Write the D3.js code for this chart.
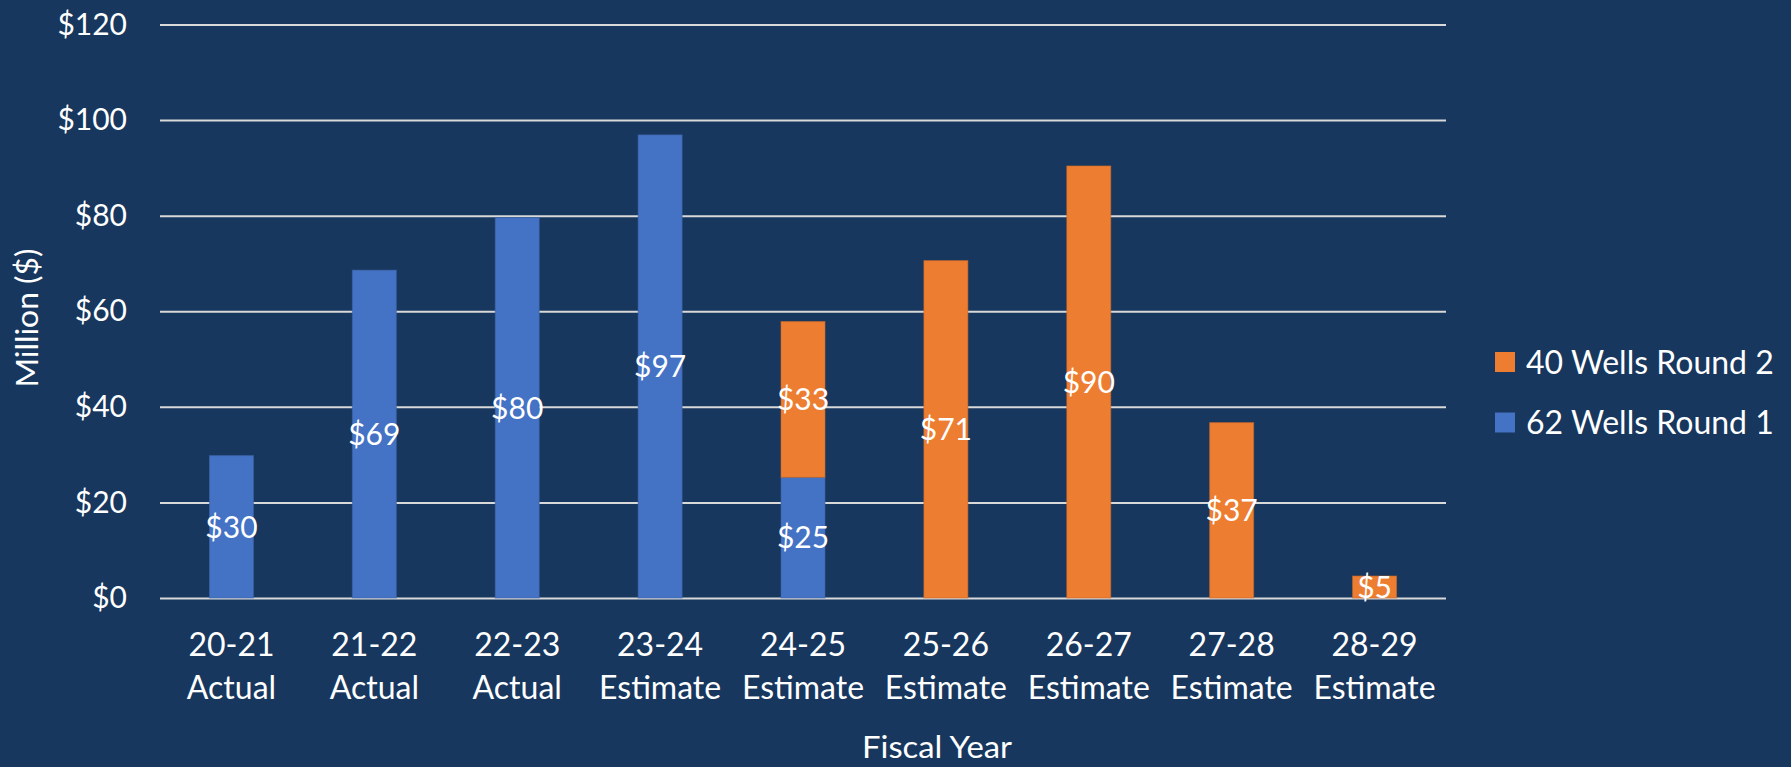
<!DOCTYPE html>
<html>
<head>
<meta charset="utf-8">
<script src="https://cdn.jsdelivr.net/npm/d3@7"></script>
<style>
  html, body { margin: 0; padding: 0; background: #17375E; }
  svg { display: block; }
  text { font-family: Lato, "Open Sans", sans-serif; fill: #ffffff; }
</style>
</head>
<body>
<svg id="chart" width="1791" height="767"></svg>
<script>
// ---- data ----
const categories = ["20-21", "21-22", "22-23", "23-24", "24-25", "25-26", "26-27", "27-28", "28-29"];
const categoryNotes = ["Actual", "Actual", "Actual", "Estimate", "Estimate", "Estimate", "Estimate", "Estimate", "Estimate"];
const round1 = [29.8, 68.6, 79.6, 96.9, 25.25, 0, 0, 0, 0];   // 62 Wells Round 1
const round2 = [0, 0, 0, 0, 32.6, 70.6, 90.4, 36.7, 4.6];     // 40 Wells Round 2
const seriesNames = ["62 Wells Round 1", "40 Wells Round 2"];
const seriesColors = ["#4472C4", "#ED7D31"];
const yTicks = [0, 20, 40, 60, 80, 100, 120];
const xTitle = "Fiscal Year";
const yTitle = "Million ($)";

// ---- layout ----
const svg = d3.select("#chart");
const plotLeft = 160, plotRight = 1446, plotTop = 24.5, plotBottom = 598;

const x = d3.scaleBand().domain(categories).range([plotLeft, plotRight])
  .paddingInner(0.692).paddingOuter(0.346);
const y = d3.scaleLinear().domain([0, 120]).range([plotBottom, plotTop]);

const rows = categories.map((c, i) => ({ cat: c, r1: round1[i], r2: round2[i] }));
const stacked = d3.stack().keys(["r1", "r2"])(rows);

// gridlines + y tick labels
const yAxis = d3.axisLeft(y).tickValues(yTicks).tickSize(-(plotRight - plotLeft)).tickPadding(33)
  .tickFormat(d => "$" + d);
const gy = svg.append("g").attr("transform", `translate(${plotLeft},0)`).call(yAxis);
gy.select(".domain").remove();
gy.selectAll(".tick line").attr("stroke", "#D9D9D9").attr("stroke-width", 2);
gy.selectAll(".tick text").attr("fill", "#fff").style("font-size", "30px")
  .style("font-family", "Lato, sans-serif");

// bars
const strokeColors = ["#3D64A8", "#C9692A"];
stacked.forEach((layer, si) => {
  svg.append("g").attr("fill", seriesColors[si])
    .selectAll("rect")
    .data(layer.filter(v => v[1] - v[0] > 0))
    .join("rect")
    .attr("x", v => x(v.data.cat))
    .attr("width", x.bandwidth())
    .attr("y", v => y(v[1]))
    .attr("height", v => y(v[0]) - y(v[1]))
    .attr("stroke", strokeColors[si])
    .attr("stroke-width", 1)
    .attr("stroke-opacity", 0.6);
});

// data labels
const fmt = d3.format(".0f");
const labelG = svg.append("g");
stacked.forEach(layer => {
  layer.forEach(v => {
    const val = v[1] - v[0];
    if (val <= 0) return;
    labelG.append("text")
      .attr("x", x(v.data.cat) + x.bandwidth() / 2)
      .attr("y", y((v[0] + v[1]) / 2))
      .attr("dy", "0.36em")
      .attr("text-anchor", "middle")
      .style("font-size", "30px")
      .text("$" + fmt(val));
  });
});

// x axis labels
const xAxis = d3.axisBottom(x).tickSize(0).tickPadding(0);
const gx = svg.append("g").attr("transform", `translate(0,${plotBottom})`).call(xAxis);
gx.select(".domain").remove();
gx.selectAll(".tick text").each(function (d) {
  const t = d3.select(this);
  t.text(null).attr("y", 0).attr("dy", null)
    .style("font-size", "32px").style("font-family", "Lato, sans-serif").attr("fill", "#fff");
  t.append("tspan").attr("x", 0).attr("y", 58).text(d);
  t.append("tspan").attr("x", 0).attr("y", 101).text(categoryNotes[categories.indexOf(d)]);
});

// axis titles
svg.append("text").attr("x", 937).attr("y", 758)
  .attr("text-anchor", "middle").style("font-size", "30px")
  .attr("textLength", 150).attr("lengthAdjust", "spacingAndGlyphs").text(xTitle);
svg.append("text")
  .attr("transform", `translate(38,318) rotate(-90)`)
  .attr("text-anchor", "middle").style("font-size", "30px")
  .attr("textLength", 139).attr("lengthAdjust", "spacingAndGlyphs").text(yTitle);

// legend (Round 2 on top)
const legendItems = [1, 0];
const lg = svg.append("g");
legendItems.forEach((si, k) => {
  const cy = 362 + k * 60.5;
  lg.append("rect").attr("x", 1495).attr("y", cy - 10).attr("width", 20).attr("height", 20)
    .attr("fill", seriesColors[si]);
  lg.append("text").attr("x", 1526).attr("y", cy).attr("dy", "0.36em")
    .style("font-size", "32px").text(seriesNames[si]);
});
</script>
</body>
</html>
